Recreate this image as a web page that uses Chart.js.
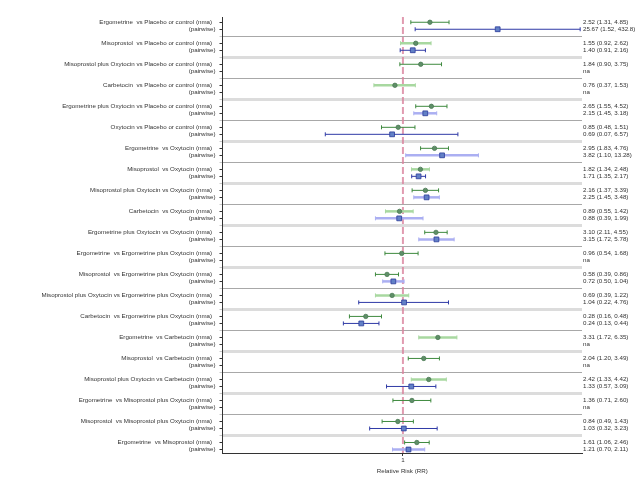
<!DOCTYPE html>
<html>
<head>
<meta charset="utf-8">
<script src="https://cdn.jsdelivr.net/npm/chart.js@4.4.0/dist/chart.umd.min.js"></script>
<style>
  html, body { margin: 0; padding: 0; background: #fff; }
  canvas { display: block; }
</style>
</head>
<body>
<canvas id="forest" width="640" height="480"></canvas>
<script>
const comparisons = [
    'Ergometrine  vs Placebo or control',
    'Misoprostol  vs Placebo or control',
    'Misoprostol plus Oxytocin vs Placebo or control',
    'Carbetocin  vs Placebo or control',
    'Ergometrine plus Oxytocin vs Placebo or control',
    'Oxytocin vs Placebo or control',
    'Ergometrine  vs Oxytocin',
    'Misoprostol  vs Oxytocin',
    'Misoprostol plus Oxytocin vs Oxytocin',
    'Carbetocin  vs Oxytocin',
    'Ergometrine plus Oxytocin vs Oxytocin',
    'Ergometrine  vs Ergometrine plus Oxytocin',
    'Misoprostol  vs Ergometrine plus Oxytocin',
    'Misoprostol plus Oxytocin vs Ergometrine plus Oxytocin',
    'Carbetocin  vs Ergometrine plus Oxytocin',
    'Ergometrine  vs Carbetocin',
    'Misoprostol  vs Carbetocin',
    'Misoprostol plus Oxytocin vs Carbetocin',
    'Ergometrine  vs Misoprostol plus Oxytocin',
    'Misoprostol  vs Misoprostol plus Oxytocin',
    'Ergometrine  vs Misoprostol'
];

// network meta-analysis estimates
const nmaRR   = [2.52, 1.55, 1.84, 0.76, 2.65, 0.85, 2.95, 1.82, 2.16, 0.89, 3.10, 0.96, 0.58, 0.69, 0.28, 3.31, 2.04, 2.42, 1.36, 0.84, 1.61];
const nmaLow  = [1.31, 0.92, 0.90, 0.37, 1.55, 0.48, 1.83, 1.34, 1.37, 0.55, 2.11, 0.54, 0.39, 0.39, 0.16, 1.72, 1.20, 1.33, 0.71, 0.49, 1.06];
const nmaHigh = [4.85, 2.62, 3.75, 1.53, 4.52, 1.51, 4.76, 2.48, 3.39, 1.42, 4.55, 1.68, 0.86, 1.22, 0.48, 6.35, 3.49, 4.42, 2.60, 1.43, 2.46];

// pairwise estimates (null = na)
const pairRR   = [25.67, 1.40, null, null, 2.15, 0.69, 3.82, 1.71, 2.25, 0.88, 3.15, null, 0.72, 1.04, 0.24, null, null, 1.33, null, 1.03, 1.21];
const pairLow  = [1.52, 0.91, null, null, 1.45, 0.07, 1.10, 1.35, 1.45, 0.39, 1.72, null, 0.50, 0.22, 0.13, null, null, 0.57, null, 0.32, 0.70];
const pairHigh = [432.8, 2.16, null, null, 3.18, 6.57, 13.28, 2.17, 3.48, 1.99, 5.78, null, 1.04, 4.76, 0.44, null, null, 3.09, null, 3.23, 2.11];

const xTicks = [1];
const xTitle = 'Relative Risk (RR)';

// rows drawn with the pale, thicker CI line
const paleNma = [1, 3, 7, 9, 13, 15, 17];
const palePair = [4, 6, 8, 9, 10, 12, 20];

const font = { family: "'Liberation Sans', Arial, sans-serif", size: 6.2 };
const textColor = '#333';
const yMin = -0.75, yMax = 61.5;

// each comparison takes 3 slots: nma, pairwise, separator
const slots = [];
for (let i = 0; i < comparisons.length; i++) {
    slots.push(3 * i, 3 * i + 1);
    if (3 * i + 2 < yMax) slots.push(3 * i + 2);
}

const fmt = v => v >= 100 ? v.toFixed(1) : v.toFixed(2);
const ciText = (e, l, h) => `${fmt(e)} (${fmt(l)}, ${fmt(h)})`;

const leftLabel = v => {
    const i = Math.floor(v / 3), k = v % 3;
    if (k === 0) return comparisons[i] + ' (nma)  ';
    if (k === 1) return '(pairwise)';
    return '';
};
const rightLabel = v => {
    const i = Math.floor(v / 3), k = v % 3;
    if (k === 0) return ciText(nmaRR[i], nmaLow[i], nmaHigh[i]);
    if (k === 1) return pairRR[i] == null ? 'na' : ciText(pairRR[i], pairLow[i], pairHigh[i]);
    return '';
};

const ciLine = (lo, hi, y, color, width) => ({
    data: [{ x: lo, y: y }, { x: hi, y: y }],
    showLine: true,
    borderColor: color,
    borderWidth: width,
    pointStyle: 'line',
    pointRotation: 90,
    pointRadius: 2,
    pointBorderColor: color,
    pointBorderWidth: 1,
    clip: false
});

const datasets = [];

datasets.push({
    label: 'nma',
    data: nmaRR.map((v, i) => ({ x: v, y: 3 * i })),
    pointStyle: 'circle',
    pointRadius: 2.2,
    backgroundColor: '#5f8f68',
    borderColor: '#4a7a53',
    borderWidth: 0.8
});
datasets.push({
    label: 'pairwise',
    data: pairRR.map((v, i) => v == null ? null : ({ x: v, y: 3 * i + 1 })).filter(p => p),
    pointStyle: 'rect',
    pointRadius: 3.4,
    backgroundColor: '#6280c6',
    borderColor: '#2b3b9b',
    borderWidth: 0.8
});

for (let i = 0; i < comparisons.length; i++) {
    const pn = paleNma.includes(i);
    datasets.push(ciLine(nmaLow[i], nmaHigh[i], 3 * i, pn ? '#a8d8a0' : '#3f8a3f', pn ? 2.5 : 1));
    if (pairRR[i] != null) {
        const pp = palePair.includes(i);
        datasets.push(ciLine(pairLow[i], pairHigh[i], 3 * i + 1, pp ? '#abaff2' : '#2f3aa6', pp ? 2.5 : 1));
    }
}

// line of no effect
datasets.push({
    data: [{ x: 1, y: yMin }, { x: 1, y: yMax }],
    showLine: true,
    borderColor: 'rgba(218, 130, 156, 0.8)',
    borderWidth: 2,
    borderDash: [7, 3],
    pointRadius: 0
});

new Chart(document.getElementById('forest'), {
    type: 'scatter',
    data: { datasets: datasets },
    options: {
        responsive: false,
        animation: false,
        devicePixelRatio: 1,
        layout: { padding: { top: 17, left: 0, right: 0, bottom: 0 } },
        plugins: { legend: { display: false }, tooltip: { enabled: false } },
        scales: {
            x: {
                type: 'logarithmic',
                min: 0.00207,
                max: 461,
                afterBuildTicks: s => { s.ticks = xTicks.map(v => ({ value: v })); },
                ticks: { callback: v => String(v), font: font, color: textColor, padding: 1, maxRotation: 0, autoSkip: false },
                grid: { drawOnChartArea: false, tickLength: 3, tickColor: '#333' },
                border: { color: '#333', width: 1 },
                title: { display: true, text: xTitle, font: font, color: textColor, padding: { top: 3, bottom: 4.5 } },
                afterFit: s => { s.height = 27; }
            },
            y: {
                type: 'linear',
                reverse: true,
                min: yMin,
                max: yMax,
                afterBuildTicks: s => { s.ticks = slots.map(v => ({ value: v })); },
                ticks: { callback: v => leftLabel(Math.round(v)), font: font, color: textColor, padding: 4, autoSkip: false },
                grid: {
                    color: ctx => {
                        const v = Math.round(ctx.tick.value);
                        if (v % 3 !== 2) return 'rgba(0,0,0,0)';
                        return Math.floor(v / 3) % 2 === 0 ? '#a8a8a8' : '#dcdcdc';
                    },
                    lineWidth: ctx => {
                        const v = Math.round(ctx.tick.value);
                        return (v % 3 === 2 && Math.floor(v / 3) % 2 === 1) ? 3 : 1;
                    },
                    tickColor: ctx => Math.round(ctx.tick.value) % 3 === 2 ? '#c8c8c8' : '#333',
                    tickWidth: 1,
                    tickLength: 3
                },
                border: { color: '#333', width: 1 },
                afterFit: s => { s.width = 222.5; }
            },
            yRight: {
                type: 'linear',
                position: 'right',
                reverse: true,
                min: yMin,
                max: yMax,
                afterBuildTicks: s => { s.ticks = slots.map(v => ({ value: v })); },
                ticks: { callback: v => rightLabel(Math.round(v)), font: font, color: textColor, padding: 1, autoSkip: false },
                grid: { display: false, drawTicks: false },
                border: { display: false },
                afterFit: s => { s.width = 58; }
            }
        }
    }
});
</script>
</body>
</html>
